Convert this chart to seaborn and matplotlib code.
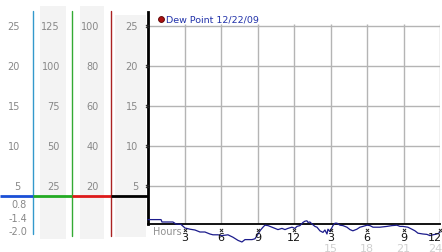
import matplotlib
matplotlib.use("Agg")
import matplotlib.pyplot as plt
import matplotlib.transforms as mtransforms
import seaborn as sns
import pandas as pd

# ---- data ----
hours = [0.0, 1.07, 1.15, 2.05, 2.3, 2.71, 3.04, 3.45, 3.86, 4.27, 4.68, 5.09, 5.34, 5.75,
         6.08, 6.57, 6.98, 7.40, 7.56, 7.72, 7.97, 8.55, 8.79, 8.96, 9.2, 9.45, 9.61, 9.86,
         10.19, 10.44, 10.68, 11.01, 11.26, 11.5, 11.83, 12.08, 12.24, 12.49, 12.74, 12.9,
         13.06, 13.15, 13.31, 13.48, 13.72, 13.89, 14.13, 14.38, 14.54, 14.71, 14.79, 14.95,
         15.2, 15.37, 15.53, 15.78, 16.02, 16.35, 16.6, 16.84, 17.17, 17.42, 17.67, 18.0,
         18.24, 18.49, 19.06, 19.64, 20.05, 20.46, 20.71, 20.95, 21.36, 21.69, 21.94, 22.19,
         22.6, 22.93, 23.17, 23.42, 23.75, 24.0]
dew_point = [0.8, 0.8, 0.5, 0.5, 0.25, 0.2, -0.25, -0.4, -0.5, -0.75, -0.75, -1.0, -1.1, -1.1,
             -1.2, -1.1, -1.4, -1.8, -1.9, -2.0, -1.7, -1.7, -1.6, -1.2, -0.6, -0.15, 0.1, 0.05,
             -0.15, -0.3, -0.45, -0.3, -0.45, -0.3, -0.15, -0.3, -0.05, 0.05, 0.45, 0.6,
             0.65, 0.45, 0.5, 0.25, -0.05, -0.15, -0.6, -0.8, -0.5, -1.0, -0.4, -0.7,
             0.05, 0.35, 0.35, 0.1, 0.05, -0.15, -0.45, -0.6, -0.4, -0.15, -0.05, 0.1,
             0.05, -0.15, -0.15, -0.05, 0.05, 0.1, -0.05, -0.05, -0.15, -0.4, -0.6, -0.9,
             -1.0, -1.05, -1.2, -1.1, -1.0, -0.8]

grid_values = [25, 20, 15, 10, 5]
col1_labels = ["25", "20", "15", "10", "5"]
col2_labels = ["125", "100", "75", "50", "25"]
col3_labels = ["100", "80", "60", "40", "20"]
col4_labels = ["25", "20", "15", "10", "5"]
stat_labels = ["0.8", "-1.4", "-2.0"]
hour_ticks = [3, 6, 9, 12, 15, 18, 21, 24]
hour_labels = ["3", "6", "9", "12", "3", "6", "9", "12"]
hour2_ticks = [15, 18, 21, 24]
hour2_labels = ["15", "18", "21", "24"]
legend_label = "Dew Point 12/22/09"

sns.set_style("white")
plt.rcParams["font.family"] = ["DejaVu Sans"]

W, H = 442, 253
fig = plt.figure(figsize=(W / 100, H / 100), dpi=100)

# overlay axes in pixel coordinates for the side panel decorations
ov = fig.add_axes([0, 0, 1, 1], zorder=0)
ov.set_xlim(0, W)
ov.set_ylim(H, 0)
ov.axis("off")

# main chart axes
ax = fig.add_axes([148 / W, (H - 225) / H, (440 - 148) / W, (225 - 13) / H], zorder=2)
ax.patch.set_alpha(0)
ax.set_xlim(0, 24)
ax.set_ylim(0.25, 26.75)

# side panel strips
strip_col = "#f3f3f3"
for (x0, x1, y0, y1) in [(40, 66, 7, 240), (80, 104, 7, 240), (115, 146, 16, 238)]:
    ov.fill_between([x0, x1], [y0, y0], [y1, y1], color=strip_col, lw=0)

# vertical colored lines
ov.plot([33, 33], [12, 235], color="#3399cc", lw=1)
ov.plot([72, 72], [12, 237], color="#33aa33", lw=1)
ov.plot([111, 111], [12, 237], color="#aa2222", lw=1)

# horizontal colored band
for (x0, x1, c) in [(0, 33, "#1a4fd6"), (33, 72, "#22aa22"), (72, 111, "#dd1a1a"), (111, 148, "#000000")]:
    ov.plot([x0, x1], [197, 197], color=c, lw=2, solid_capstyle="butt")

# side panel labels aligned with the main y scale
blend = mtransforms.blended_transform_factory(ov.transData, ax.transData)
lab_col = "#888888"
for labels, xr in [(col1_labels, 20), (col2_labels, 60), (col3_labels, 99), (col4_labels, 138)]:
    for v, t in zip(grid_values, labels):
        ov.text(xr, v, t, transform=blend, ha="right", va="center", fontsize=7, color=lab_col)

for t, yp in zip(stat_labels, [205, 219, 232]):
    ov.text(27, yp, t, ha="right", va="center", fontsize=7, color=lab_col)

# grid
ax.hlines(grid_values, 0, 24, color="#b4b4b4", lw=1, zorder=1)
ax.vlines(hour_ticks, 0.25, 25.3, color="#b4b4b4", lw=1, zorder=1)

# data line
df = pd.DataFrame({"Hours": hours, "Dew Point": dew_point})
sns.lineplot(data=df, x="Hours", y="Dew Point", ax=ax, color="#1c1c8c", lw=0.9,
             clip_on=False, zorder=3)

# spines
for s in ["top", "right"]:
    ax.spines[s].set_visible(False)
ax.spines["left"].set_linewidth(2)
ax.spines["left"].set_color("black")
ax.spines["bottom"].set_linewidth(1.3)
ax.spines["bottom"].set_color("black")
ax.set_xlabel("")
ax.set_ylabel("")
ax.set_yticks([])
ax.set_xticks([])

# small tick markers
ax.scatter([-0.1] * len(grid_values), grid_values, marker="x", s=5, color="#222222",
           lw=0.7, clip_on=False, zorder=4)
ax.scatter(hour_ticks, [-0.55] * len(hour_ticks), marker="x", s=5, color="#222222",
           lw=0.7, clip_on=False, zorder=4)

# hour labels (the last one in each row is pulled in so it stays inside the image)
shift_left = mtransforms.offset_copy(ax.transData, fig=fig, x=-5, y=0, units="dots")
for i, (hx, t) in enumerate(zip(hour_ticks, hour_labels)):
    tr = shift_left if i == len(hour_ticks) - 1 else ax.transData
    ax.text(hx, -1.4, t, ha="center", va="center", fontsize=8, color="#111111",
            clip_on=False, transform=tr)
for i, (hx, t) in enumerate(zip(hour2_ticks, hour2_labels)):
    tr = shift_left if i == len(hour2_ticks) - 1 else ax.transData
    ax.text(hx, -2.75, t, ha="center", va="center", fontsize=8, color="#d0d0d0",
            clip_on=False, transform=tr)
ax.text(0.4, -0.6, "Hours", ha="left", va="center", fontsize=7, color="#909090", clip_on=False)

# legend
ax.scatter([1.07], [25.9], s=18, color="#aa1111", edgecolor="#550000", lw=0.6,
           clip_on=False, zorder=5)
ax.text(1.48, 25.9, legend_label, ha="left", va="center", fontsize=6.8, color="#2233aa",
        clip_on=False)

fig.savefig("out.png", dpi=100)
